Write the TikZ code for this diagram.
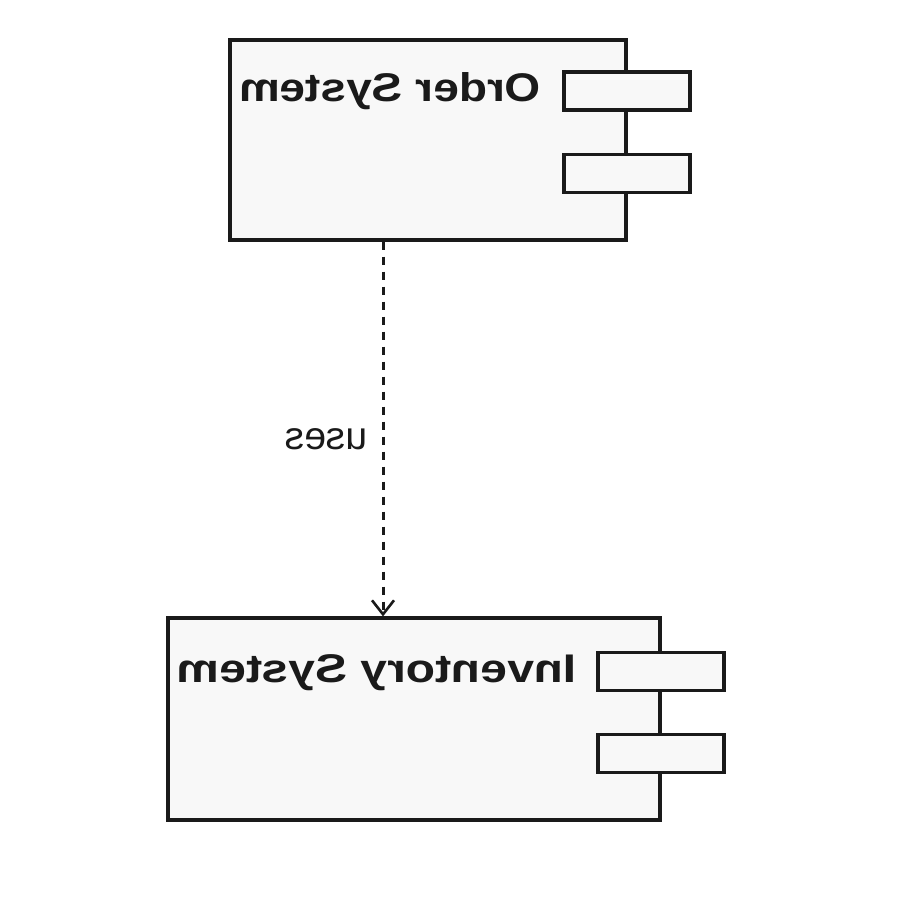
\documentclass[tikz,border=0pt]{standalone}
\usepackage{fontspec}
\setmainfont{Liberation Sans}
\usetikzlibrary{arrows.meta}
\definecolor{boxfill}{HTML}{F8F8F8}
\definecolor{ink}{HTML}{1A1A1A}
\tikzset{
  comp/.style={draw=ink, line width=3.2pt, fill=boxfill, rectangle, inner sep=0pt},
  port/.style={draw=ink, line width=3.2pt, fill=boxfill, rectangle, inner sep=0pt, minimum width=126pt, minimum height=38pt},
  title/.style={inner sep=0pt, text=ink, font=\fontsize{40}{48}\selectfont\bfseries},
  lbl/.style={inner sep=0pt, text=ink, font=\fontsize{39}{46}\selectfont},
  dep/.style={draw=ink, line width=3pt, dash pattern=on 8pt off 7pt, -{Straight Barb[length=14pt,width=22pt,line width=2.6pt]}}
}
\begin{document}
\begin{tikzpicture}[x=1pt,y=-1pt]
\useasboundingbox (0,0) rectangle (900,900);
% Order System
\node[comp, minimum width=396pt, minimum height=200pt] (order) at (428,140) {};
\node[port] (op1) at (627,91) {};
\node[port] (op2) at (627,173.5) {};
\node[title, anchor=base east] (ot) at (541,101) {\scalebox{-1.15}[1]{Order System}};
% Inventory System
\node[comp, minimum width=492pt, minimum height=202pt] (inv) at (414,719) {};
\node[port] (ip1) at (661,671.5) {};
\node[port] (ip2) at (661,753.5) {};
\node[title, anchor=base east] (it) at (577,682) {\scalebox{-1.2}[1]{Inventory System}};
% dependency
\draw[dep] ([xshift=-45pt]order.south) -- node[lbl, anchor=base east, pos=0.52, xshift=-14pt, yshift=-13pt] (uses) {\scalebox{-1}[1]{uses}} ([xshift=-31pt]inv.north);
\end{tikzpicture}
\end{document}
